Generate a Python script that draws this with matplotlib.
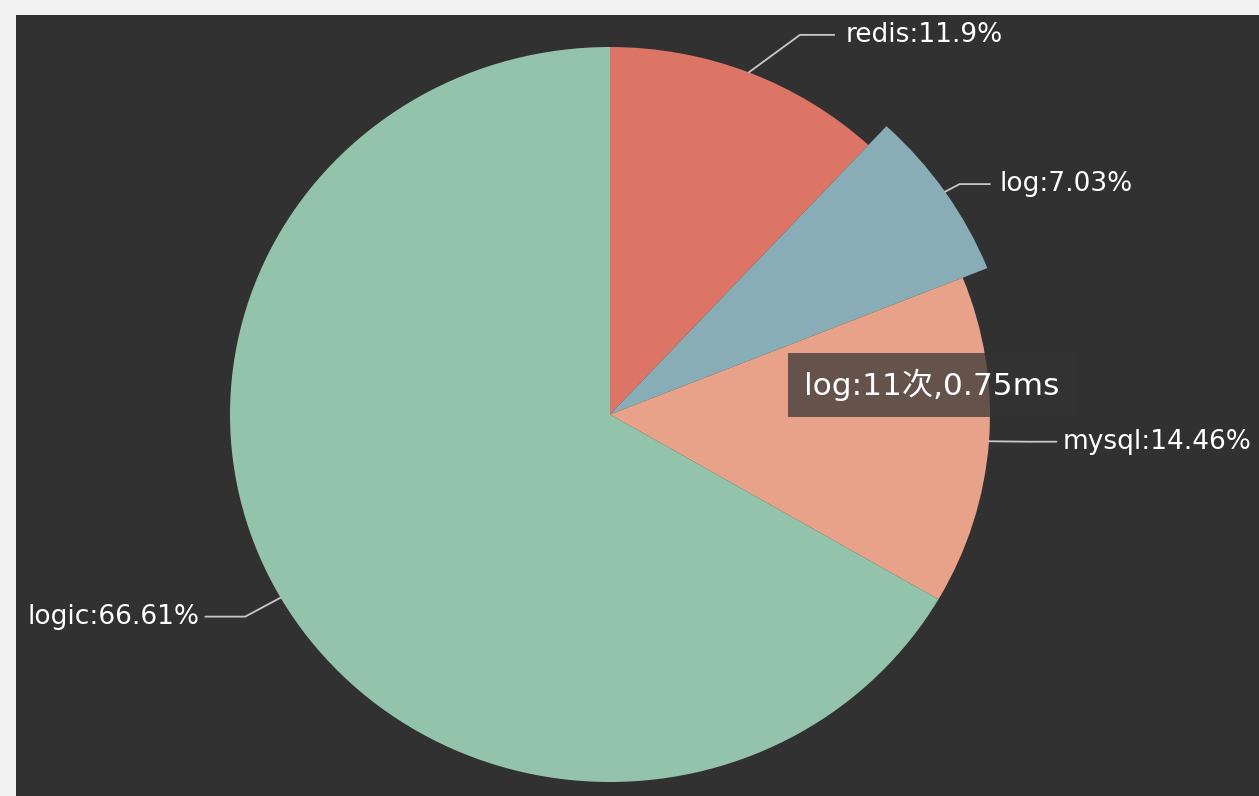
import matplotlib
matplotlib.use("Agg")
import matplotlib.pyplot as plt
from matplotlib.patches import Rectangle
import numpy as np

# ---- data ----
categories = ["redis", "log", "mysql", "logic"]
percents = [11.9, 7.03, 14.46, 66.61]
colors = ["#dd7567", "#89adb6", "#e8a28a", "#94c3ab"]
tooltip_text = "log:11次,0.75ms"

# ---- figure ----
W, H = 1259, 796
fig = plt.figure(figsize=(W / 100, H / 100), dpi=100)
fig.patch.set_facecolor("#313131")
# light frame on top and left
fig.patches.append(Rectangle((0, 1 - 15 / H), 1, 15 / H, transform=fig.transFigure,
                             facecolor="#f2f2f2", edgecolor="none", zorder=0))
fig.patches.append(Rectangle((0, 0), 16 / W, 1, transform=fig.transFigure,
                             facecolor="#f2f2f2", edgecolor="none", zorder=0))

ax = fig.add_axes([0, 0, 1, 1])
ax.set_facecolor("none")

cx_px, cy_px = 610, 414.5
rx_px, ry_px = 380, 367.5

wedges, _ = ax.pie(percents, colors=colors, startangle=90, counterclock=False,
                   radius=1.0, wedgeprops=dict(linewidth=0))
# highlighted slice (log) is drawn larger
wedges[1].set_radius(1.07)

ax.set_aspect("auto")
ax.set_xlim(-cx_px / rx_px, (W - cx_px) / rx_px)
ax.set_ylim(-(H - cy_px) / ry_px, cy_px / ry_px)
ax.axis("off")

# ---- labels with leader lines ----
# layout: (elbow point, horizontal end, text x, ha) in data units
layout = {
    "redis": ((0.50, 1.033), 0.59, 0.62, "left"),
    "log": ((0.92, 0.627), 1.0, 1.025, "left"),
    "mysql": ((1.10, -0.074), 1.175, 1.19, "left"),
    "logic": ((-0.96, -0.55), -1.065, -1.08, "right"),
}
radii = [1.0, 1.07, 1.0, 1.0]
start = 90.0
for cat, p, r in zip(categories, percents, radii):
    span = p / 100 * 360
    mid = np.deg2rad(start - span / 2)
    start -= span
    ex, ey = r * np.cos(mid), r * np.sin(mid)
    (bx, by), hx, tx, ha = layout[cat]
    ax.plot([ex, bx, hx], [ey, by, by], color="#c8c8c8", lw=1.3,
            solid_capstyle="round", zorder=3)
    ax.text(tx, by, f"{cat}:{p:g}%", color="white", fontsize=19,
            ha=ha, va="center", family=["DejaVu Sans", "Noto Sans CJK SC"], zorder=4)

# ---- tooltip ----
ax.text(0.51, 0.08, tooltip_text, color="white", fontsize=22.5, ha="left", va="center",
        family=["DejaVu Sans", "Noto Sans CJK SC"], zorder=6,
        bbox=dict(boxstyle="square,pad=0.5", facecolor=(0.2, 0.2, 0.2, 0.72),
                  edgecolor="none"))

fig.savefig("out.png", dpi=100, facecolor=fig.get_facecolor())
